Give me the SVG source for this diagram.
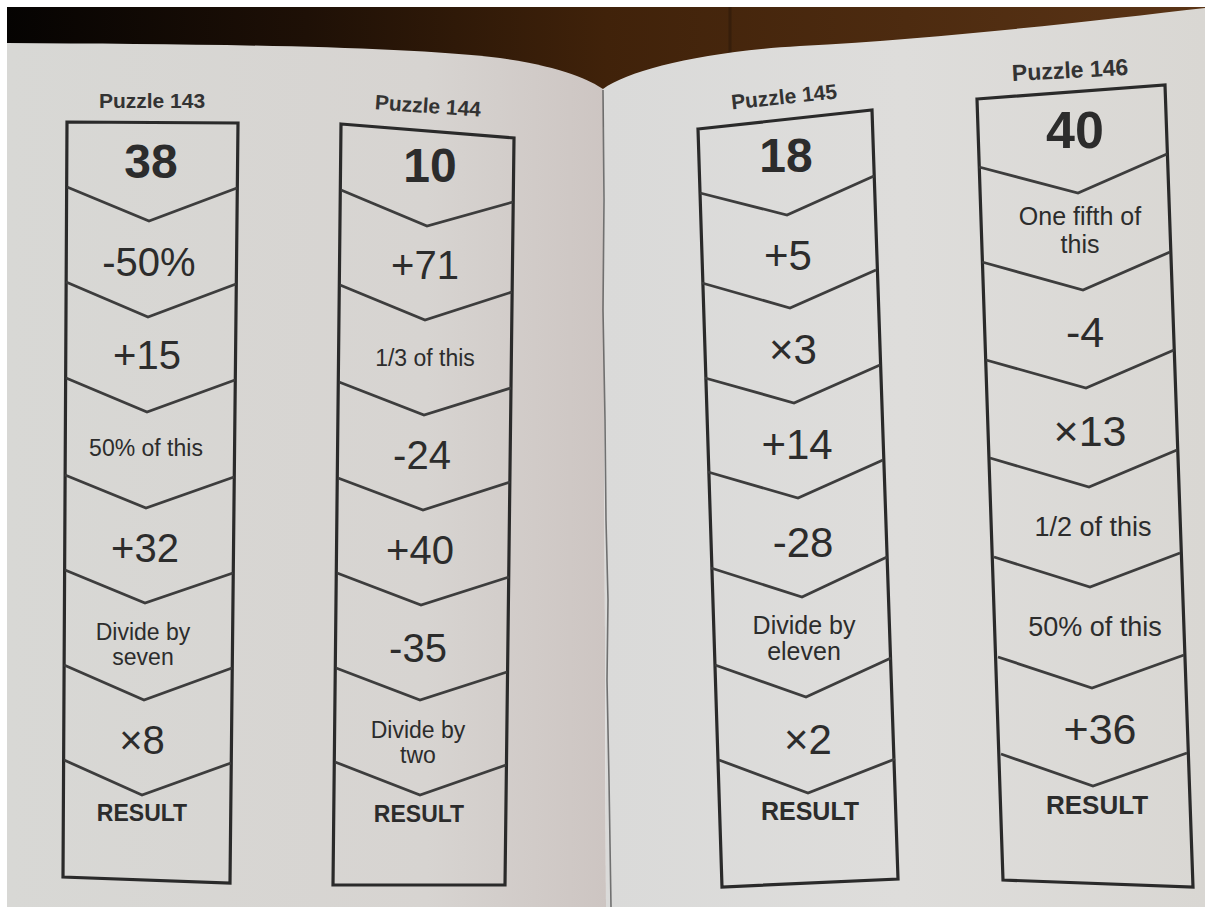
<svg xmlns="http://www.w3.org/2000/svg" width="1205" height="907" viewBox="0 0 1205 907">
<defs>
<linearGradient id="wood" x1="0" y1="0" x2="1" y2="0">
<stop offset="0" stop-color="#050302"/>
<stop offset="0.25" stop-color="#1e1006"/>
<stop offset="0.5" stop-color="#40220a"/>
<stop offset="1" stop-color="#5a3416"/>
</linearGradient>
<linearGradient id="lpage" x1="0" y1="0" x2="1" y2="0">
<stop offset="0" stop-color="#d8d8d5"/>
<stop offset="0.7" stop-color="#d7d4d1"/>
<stop offset="1" stop-color="#cdc5c2"/>
</linearGradient>
<linearGradient id="rpage" x1="0" y1="0" x2="1" y2="0">
<stop offset="0" stop-color="#dadad9"/>
<stop offset="0.5" stop-color="#dedddb"/>
<stop offset="1" stop-color="#d9d7d3"/>
</linearGradient>
<style>
.box{fill:none;stroke:#2a2a2a;stroke-width:3.2;stroke-linejoin:miter}
.chev{fill:none;stroke:#3d3d3d;stroke-width:2.8;stroke-linejoin:miter}
.t{font-family:"Liberation Sans",Arial,sans-serif;fill:#2c2c2c;text-anchor:middle}
.title{font-weight:bold;font-size:21px;fill:#333}
.big{font-weight:bold;font-size:48px}
.num{font-size:40px}
.sm{font-size:23px}
.res{font-weight:bold;font-size:23px}
</style>
</defs>
<rect x="0" y="0" width="1205" height="907" fill="#ffffff"/>
<rect x="7" y="7" width="1198" height="120" fill="url(#wood)"/>
<line x1="730" y1="7" x2="730" y2="60" stroke="#2e1a0a" stroke-width="3" opacity="0.6"/>
<path d="M7,43 C200,44 400,46 500,58 C560,66 590,80 603,89 L606,907 L7,907 Z" fill="url(#lpage)"/>
<path d="M603,89 C630,70 700,52 800,46 C950,38 1100,20 1205,8 L1205,907 L606,907 Z" fill="url(#rpage)"/>
<path d="M603,90 L604,200 L603,310 L605,420 L606,520 L608,600 L607,680 L609,780 L611,907" fill="none" stroke="#555" stroke-width="1.6" opacity="0.8"/>

<g id="puzzle143">
<text class="t title" x="152" y="108">Puzzle 143</text>
<polygon class="box" points="67,122 238,123 230,883 63,877"/>
<g class="connectors">
<polyline class="chev" points="67,187 149,221 237,188"/>
<polyline class="chev" points="66,282 148,317 236,284"/>
<polyline class="chev" points="66,378 147,412 235,380"/>
<polyline class="chev" points="65,475 146,508 234,477"/>
<polyline class="chev" points="65,570 145,603 233,573"/>
<polyline class="chev" points="64,665 144,700 232,668"/>
<polyline class="chev" points="64,760 142,795 231,763"/>
</g>
<text class="t big" x="151" y="178">38</text>
<text class="t num" x="149" y="276">-50%</text>
<text class="t num" x="147" y="369">+15</text>
<text class="t sm" x="146" y="456">50% of this</text>
<text class="t num" x="145" y="562">+32</text>
<text class="t sm" x="143" y="640">Divide by</text>
<text class="t sm" x="143" y="665">seven</text>
<text class="t num" x="142" y="754">×8</text>
<text class="t res" x="142" y="821">RESULT</text>
</g>

<g id="puzzle144">
<text class="t title" x="428" y="113" transform="rotate(4 428 106)">Puzzle 144</text>
<polygon class="box" points="341,124 514,138 505,885 333,885"/>
<g class="connectors">
<polyline class="chev" points="341,190 427,226 513,202"/>
<polyline class="chev" points="340,285 425,320 512,292"/>
<polyline class="chev" points="339,382 424,415 511,388"/>
<polyline class="chev" points="338,478 423,510 510,482"/>
<polyline class="chev" points="337,573 421,605 509,577"/>
<polyline class="chev" points="336,668 420,700 507,672"/>
<polyline class="chev" points="335,762 420,795 506,765"/>
</g>
<text class="t big" x="430" y="182">10</text>
<text class="t num" x="425" y="279">+71</text>
<text class="t sm" x="425" y="366">1/3 of this</text>
<text class="t num" x="422" y="469">-24</text>
<text class="t num" x="420" y="564">+40</text>
<text class="t num" x="418" y="662">-35</text>
<text class="t sm" x="418" y="738">Divide by</text>
<text class="t sm" x="418" y="763">two</text>
<text class="t res" x="419" y="822">RESULT</text>
</g>

<g id="puzzle145">
<text class="t title" x="784" y="104" transform="rotate(-6 784 97)">Puzzle 145</text>
<polygon class="box" points="698,129 872,110 898,879 722,887"/>
<g class="connectors">
<polyline class="chev" points="700,193 787,215 874,176"/>
<polyline class="chev" points="702,283 790,308 876,270"/>
<polyline class="chev" points="705,378 794,403 880,365"/>
<polyline class="chev" points="708,472 798,498 883,460"/>
<polyline class="chev" points="711,568 802,597 887,557"/>
<polyline class="chev" points="715,665 806,697 891,658"/>
<polyline class="chev" points="719,760 808,793 895,759"/>
</g>
<text class="t big" x="786" y="172">18</text>
<text class="t num" x="788" y="270" style="font-size:42px">+5</text>
<text class="t num" x="793" y="364" style="font-size:42px">×3</text>
<text class="t num" x="797" y="459" style="font-size:42px">+14</text>
<text class="t num" x="803" y="557" style="font-size:42px">-28</text>
<text class="t sm" x="804" y="634" style="font-size:25px">Divide by</text>
<text class="t sm" x="804" y="660" style="font-size:25px">eleven</text>
<text class="t num" x="808" y="754" style="font-size:42px">×2</text>
<text class="t res" x="810" y="820" style="font-size:25px">RESULT</text>
</g>

<g id="puzzle146">
<text class="t title" x="1070" y="78" transform="rotate(-3 1070 70)" style="font-size:23px">Puzzle 146</text>
<polygon class="box" points="977,99 1165,85 1193,887 1003,880"/>
<g class="connectors">
<polyline class="chev" points="979,167 1078,193 1167,154"/>
<polyline class="chev" points="982,262 1083,290 1170,252"/>
<polyline class="chev" points="986,360 1086,388 1174,350"/>
<polyline class="chev" points="990,458 1089,487 1177,450"/>
<polyline class="chev" points="994,557 1090,587 1180,553"/>
<polyline class="chev" points="998,657 1092,688 1184,655"/>
<polyline class="chev" points="1001,754 1093,786 1187,753"/>
</g>
<text class="t big" x="1075" y="148" style="font-size:52px">40</text>
<text class="t sm" x="1080" y="225" style="font-size:25px">One fifth of</text>
<text class="t sm" x="1080" y="253" style="font-size:25px">this</text>
<text class="t num" x="1085" y="347" style="font-size:43px">-4</text>
<text class="t num" x="1090" y="446" style="font-size:43px">×13</text>
<text class="t sm" x="1093" y="536" style="font-size:27px">1/2 of this</text>
<text class="t sm" x="1095" y="636" style="font-size:27px">50% of this</text>
<text class="t num" x="1100" y="744" style="font-size:43px">+36</text>
<text class="t res" x="1097" y="814" style="font-size:26px">RESULT</text>
</g>
</svg>
